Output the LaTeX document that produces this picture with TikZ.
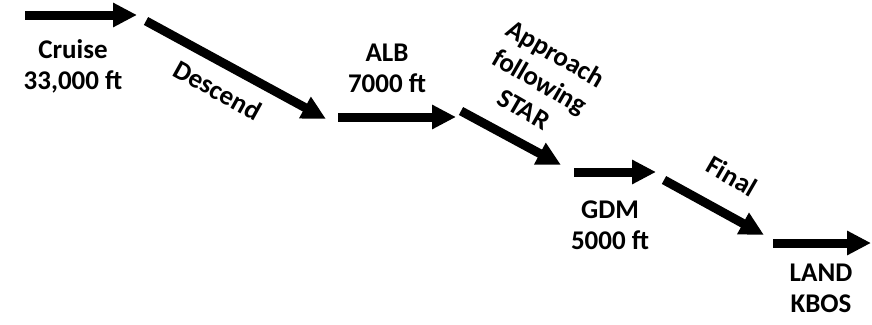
\documentclass[tikz,border=0pt]{standalone}
\usepackage{fontspec}
\setmainfont{Carlito}
\usetikzlibrary{arrows.meta}
\begin{document}
\begin{tikzpicture}[x=1pt,y=-1pt,
  flow/.style={line width=9pt, -{Triangle[length=24pt,width=23pt]}},
  lbl/.style={font=\fontsize{27}{31}\selectfont\bfseries, align=center, inner sep=0pt}]
\useasboundingbox (0,0) rectangle (872,324);
\coordinate (s1) at (25,15);  \coordinate (e1) at (137,15);
\coordinate (s2) at (146,21); \coordinate (e2) at (326,119);
\coordinate (s3) at (338,117); \coordinate (e3) at (456,117);
\coordinate (s4) at (461,111); \coordinate (e4) at (561,165);
\coordinate (s5) at (574,172); \coordinate (e5) at (656,172);
\coordinate (s6) at (664,180); \coordinate (e6) at (764,235);
\coordinate (s7) at (773,243); \coordinate (e7) at (871,243);
\draw[flow] (s1) -- (e1);
\draw[flow] (s2) -- (e2);
\draw[flow] (s3) -- (e3);
\draw[flow] (s4) -- (e4);
\draw[flow] (s5) -- (e5);
\draw[flow] (s6) -- (e6);
\draw[flow] (s7) -- (e7);
\node[lbl] (cruise) at (73,66) {Cruise\\33,000 ft};
\node[lbl, rotate=-29] (descend) at (218,90) {Descend};
\node[lbl] (alb) at (387,68) {ALB\\7000 ft};
\node[lbl, rotate=-30, font=\fontsize{27}{32}\selectfont\bfseries] (appr) at (540,81) {Approach\\following\\STAR};
\node[lbl] (gdm) at (610,225) {GDM\\5000 ft};
\node[lbl, rotate=-30] (final) at (732,176) {Final};
\node[lbl] (land) at (821,288) {LAND\\KBOS};
\end{tikzpicture}
\end{document}
